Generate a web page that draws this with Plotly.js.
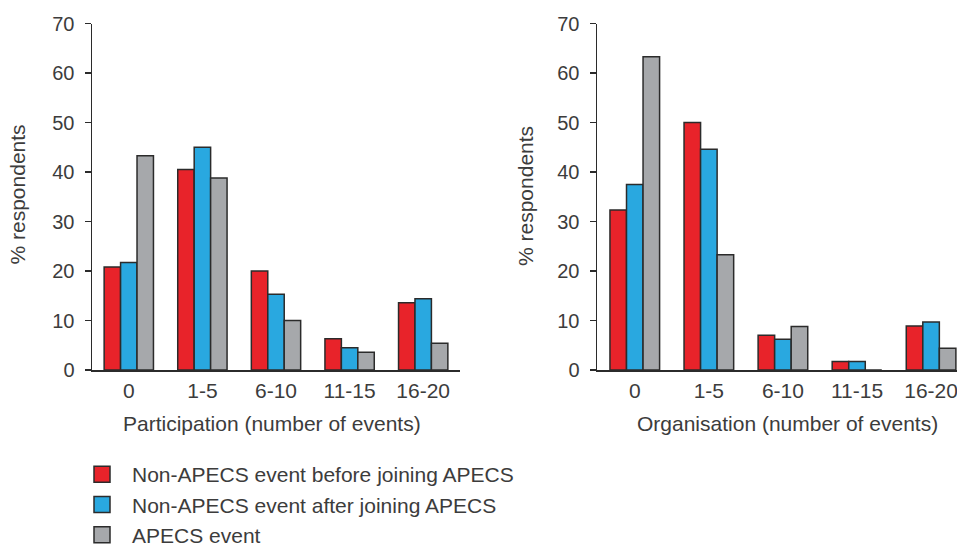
<!DOCTYPE html>
<html>
<head>
<meta charset="utf-8">
<script src="https://cdn.plot.ly/plotly-3.0.1.min.js"></script>
<style>html,body{margin:0;padding:0;background:#fff;}#chart{width:957px;height:547px;}</style>
</head>
<body>
<div id="chart"></div>
<script>
const categories = ["0", "1-5", "6-10", "11-15", "16-20"];
const seriesNames = ["Non-APECS event before joining APECS", "Non-APECS event after joining APECS", "APECS event"];

const participationBefore = [20.8, 40.5, 20.0, 6.3, 13.6];
const participationAfter  = [21.7, 45.0, 15.3, 4.5, 14.4];
const participationAPECS  = [43.3, 38.8, 10.0, 3.6, 5.4];

const organisationBefore = [32.3, 50.0, 7.0, 1.7, 8.9];
const organisationAfter  = [37.5, 44.6, 6.2, 1.7, 9.7];
const organisationAPECS  = [63.3, 23.3, 8.8, 0.0, 4.4];

const yTicks = [0, 10, 20, 30, 40, 50, 60, 70];

const colors = ["#e8232a", "#29a8e0", "#a6a8ab"];
const outline = {color: "#2b2b2b", width: 1.5};
const textColor = "#3c3c3c";
const fontFamily = "Liberation Sans, Arial, sans-serif";

function mk(y, i, xa, ya) {
  return {
    type: "bar", x: categories, y: y, name: seriesNames[i],
    xaxis: xa, yaxis: ya, showlegend: false,
    marker: {color: colors[i], line: outline},
    hoverinfo: "skip"
  };
}
function legendEntry(i) {
  return {
    type: "scatter", mode: "markers", x: [null], y: [null], name: seriesNames[i],
    xaxis: "x", yaxis: "y", showlegend: true, hoverinfo: "skip",
    marker: {symbol: "square", size: 16, color: colors[i], line: {color: "#2b2b2b", width: 1.5}}
  };
}

const data = [
  mk(participationBefore, 0, "x", "y"),
  mk(participationAfter, 1, "x", "y"),
  mk(participationAPECS, 2, "x", "y"),
  mk(organisationBefore, 0, "x2", "y2"),
  mk(organisationAfter, 1, "x2", "y2"),
  mk(organisationAPECS, 2, "x2", "y2"),
  legendEntry(0), legendEntry(1), legendEntry(2)
];

const yDomain = [(547 - 370) / 547, (547 - 23.5) / 547];

function yax(anchor) {
  return {
    anchor: anchor, domain: yDomain, range: [0, 70], tickvals: yTicks,
    ticks: "outside", ticklen: 6, tickwidth: 1.5, tickcolor: "#2b2b2b",
    showline: true, linecolor: "#2b2b2b", linewidth: 1.5,
    showgrid: false, zeroline: false, fixedrange: true,
    ticklabelstandoff: 6,
    tickfont: {size: 20, color: textColor, family: fontFamily}
  };
}
function xax(anchor, domain, range) {
  return {
    anchor: anchor, domain: domain, range: range, type: "category",
    ticks: "", showline: true, linecolor: "#2b2b2b", linewidth: 1.5,
    showgrid: false, zeroline: false, fixedrange: true,
    ticklabelstandoff: 1,
    tickfont: {size: 21, color: textColor, family: fontFamily}
  };
}

function ann(text, px, py, angle) {
  return {
    text: text, textangle: angle, xref: "paper", yref: "paper",
    x: px / 957, y: (547 - py) / 547, xanchor: "center", yanchor: "middle",
    showarrow: false, font: {size: 21, color: textColor, family: fontFamily}
  };
}

const layout = {
  width: 957, height: 547,
  margin: {l: 0, r: 0, t: 0, b: 0, autoexpand: false},
  paper_bgcolor: "#fff", plot_bgcolor: "rgba(0,0,0,0)",
  barmode: "group", bargap: 0.33, bargroupgap: 0,
  font: {family: fontFamily, color: textColor, size: 21},
  xaxis: xax("y", [92 / 957, 460 / 957], [-0.5, 4.5]),
  yaxis: yax("x"),
  xaxis2: xax("y2", [597 / 957, 1], [-0.51, 4.35]),
  yaxis2: yax("x2"),
  showlegend: true,
  legend: {
    x: 72 / 957, y: (547 - 454) / 547, xanchor: "left", yanchor: "top",
    traceorder: "normal", tracegroupgap: 0, itemwidth: 50, itemsizing: "trace",
    font: {size: 21, color: textColor, family: fontFamily},
    bgcolor: "rgba(0,0,0,0)", itemclick: false, itemdoubleclick: false
  },
  annotations: [
    ann("% respondents", 17.5, 195, -90),
    ann("% respondents", 525, 196, -90),
    ann("Participation (number of events)", 272, 423, 0),
    ann("Organisation (number of events)", 787, 423, 0)
  ]
};

Plotly.newPlot("chart", data, layout, {displayModeBar: false, staticPlot: true});
</script>
</body>
</html>
